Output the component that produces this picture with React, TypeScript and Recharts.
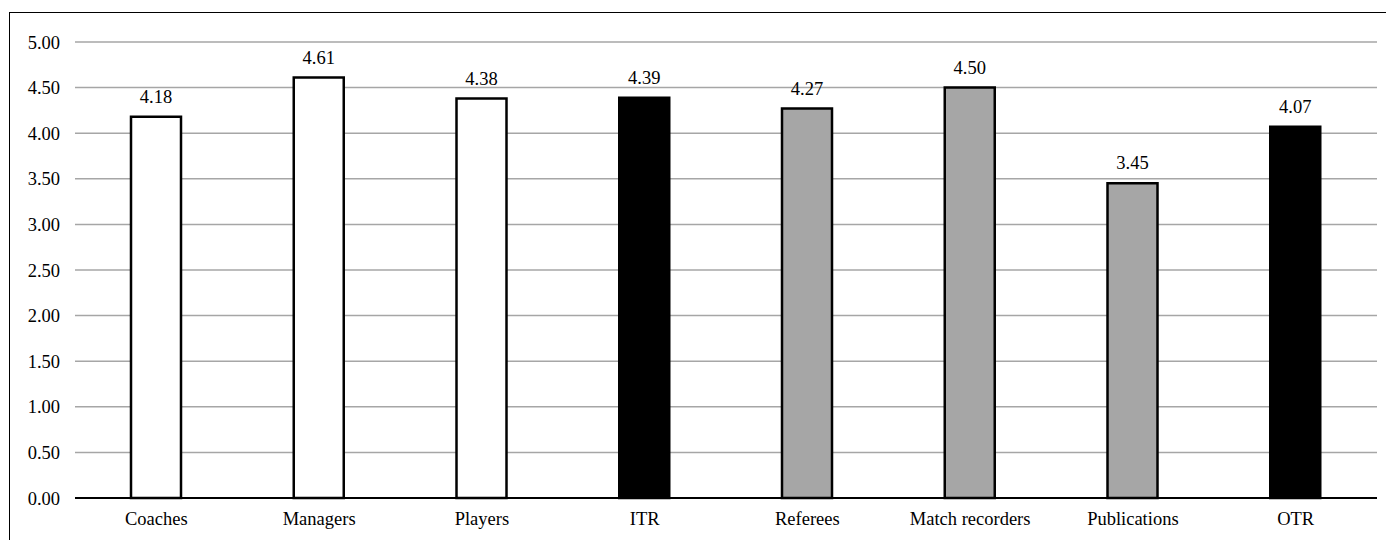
import React from "react";
import { BarChart, Bar, XAxis, YAxis, CartesianGrid, Cell, LabelList } from "recharts";

const categories = ["Coaches", "Managers", "Players", "ITR", "Referees", "Match recorders", "Publications", "OTR"];
const values = [4.18, 4.61, 4.38, 4.39, 4.27, 4.5, 3.45, 4.07];
const fills = ["#ffffff", "#ffffff", "#ffffff", "#000000", "#a6a6a6", "#a6a6a6", "#a6a6a6", "#000000"];
const yTicks = [0, 0.5, 1, 1.5, 2, 2.5, 3, 3.5, 4, 4.5, 5];

const data = categories.map((name, i) => ({ name, value: values[i] }));

const FONT = "Liberation Serif, DejaVu Serif, serif";
const FS = 18.5;

export default function App() {
  return (
    <div style={{ position: "relative", width: 1386, height: 532, fontFamily: FONT }}>
      <div
        style={{
          position: "absolute",
          left: 1,
          top: 4,
          width: 1385,
          height: 528,
          borderLeft: "1px solid #000",
          borderTop: "1px solid #000",
          boxSizing: "border-box",
        }}
      />
      <div style={{ position: "absolute", left: 0, top: 0, fontFamily: FONT }}>
        <BarChart
          width={1386}
          height={532}
          data={data}
          margin={{ top: 34, right: 17, bottom: 12, left: 0 }}
          barSize={50}
          style={{ fontFamily: FONT }}
        >
          <CartesianGrid horizontal={true} vertical={false} stroke="#a6a6a6" strokeWidth={1.5} />
          <XAxis
            dataKey="name"
            height={30}
            tickLine={false}
            axisLine={{ stroke: "#000", strokeWidth: 2 }}
            tick={{ fill: "#000", fontSize: FS, fontFamily: FONT }}
            tickMargin={8}
            interval={0}
          />
          <YAxis
            width={67}
            domain={[0, 5]}
            ticks={yTicks}
            tickFormatter={(v: number) => v.toFixed(2)}
            axisLine={false}
            tickLine={false}
            tickSize={0}
            tickMargin={15}
            tick={{ fill: "#000", fontSize: FS, fontFamily: FONT }}
          />
          <Bar dataKey="value" stroke="#000" strokeWidth={2.5} isAnimationActive={false}>
            {data.map((d, i) => (
              <Cell key={d.name} fill={fills[i]} />
            ))}
            <LabelList
              dataKey="value"
              position="top"
              offset={14}
              formatter={(v: number) => v.toFixed(2)}
              fontFamily={FONT}
              fontSize={FS}
              fill="#000"
            />
          </Bar>
        </BarChart>
      </div>
    </div>
  );
}
